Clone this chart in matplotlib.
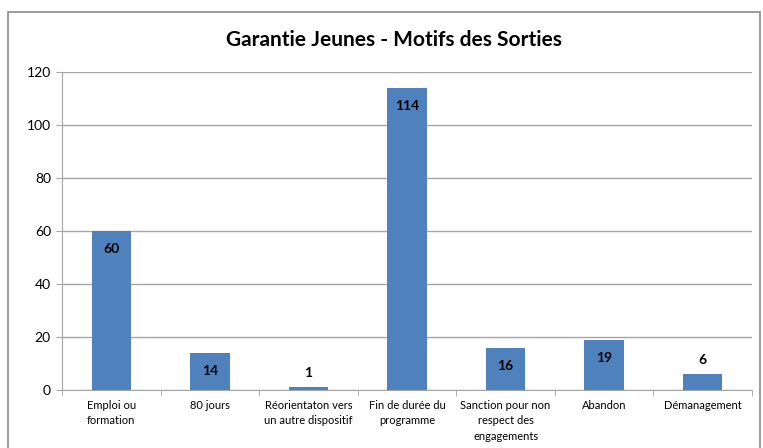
import numpy as np
from matplotlib import pyplot as plt
from matplotlib.patches import Rectangle

# data
categories = ["Emploi ou\nformation", "80 jours", "Réorientaton vers\nun autre dispositif",
              "Fin de durée du\nprogramme", "Sanction pour non\nrespect des\nengagements",
              "Abandon", "Démanagement"]
values = [60, 14, 1, 114, 16, 19, 6]
title = "Garantie Jeunes - Motifs des Sorties"

bar_color = "#4F81BD"
grid_color = "#A6A6A6"

plt.rcParams['font.family'] = ['Lato', 'DejaVu Sans']

fig = plt.figure(figsize=(7.63, 4.48), dpi=100)
ax = fig.add_axes([62/763, 58/448, 690/763, 318/448])

# outer chart frame
fig.patches.append(Rectangle((8/763, -0.1), 752/763, 1.1 - 12/448, transform=fig.transFigure,
                             fill=False, edgecolor="#8C8C8C", linewidth=1.2))

x = np.arange(len(values))
ax.bar(x, values, width=0.4, color=bar_color, zorder=3)

for xi, v in zip(x, values):
    if v >= 10:
        ax.annotate(str(v), (xi, v), xytext=(0, -13), textcoords="offset points",
                    ha="center", va="center", fontsize=10, fontweight="bold", zorder=4)
    else:
        ax.annotate(str(v), (xi, v), xytext=(0, 10), textcoords="offset points",
                    ha="center", va="center", fontsize=10, fontweight="bold", zorder=4)

ax.set_xlim(-0.5, len(values) - 0.5)
ax.set_ylim(0, 120)
ax.set_yticks(range(0, 121, 20))
ax.yaxis.grid(True, color=grid_color, linewidth=1, zorder=0)
ax.tick_params(axis="y", length=4, color=grid_color, labelsize=10, pad=4)

ax.set_xticks(x)
ax.set_xticklabels(categories, fontsize=8, linespacing=1.5)
ax.tick_params(axis="x", length=0, pad=7)
ax.set_xticks(np.arange(-0.5, len(values)), minor=True)
ax.tick_params(axis="x", which="minor", length=4, color=grid_color)

for s in ["top", "right"]:
    ax.spines[s].set_visible(False)
ax.spines["left"].set_color(grid_color)
ax.spines["bottom"].set_color(grid_color)

fig.text(394/763, 1 - 40/448, title, ha="center", va="center", fontsize=15, fontweight="bold")

fig.savefig("out.png", dpi=100)
